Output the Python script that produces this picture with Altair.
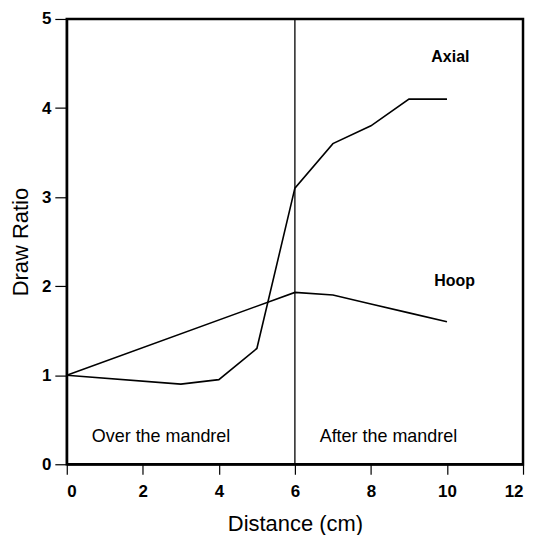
import altair as alt
import pandas as pd

axial_x = [0, 3, 4, 5, 6, 7, 8, 9, 10]
axial_y = [1.0, 0.9, 0.95, 1.3, 3.1, 3.6, 3.8, 4.1, 4.1]
hoop_x = [0, 6, 7, 8, 9, 10]
hoop_y = [1.0, 1.93, 1.9, 1.8, 1.7, 1.6]

series_labels = ["Axial", "Hoop"]
series_label_x = [10.09, 10.2]
series_label_y = [4.57, 2.06]

region_labels = ["Over the mandrel", "After the mandrel"]
region_label_x = [2.48, 8.46]
region_label_y = [0.31, 0.31]

divider_x = [6]

x_ticks = [0, 2, 4, 6, 8, 10, 12]
y_ticks = [0, 1, 2, 3, 4, 5]

FONT = "Liberation Sans"

lines_df = pd.DataFrame(
    {"x": axial_x + hoop_x,
     "y": axial_y + hoop_y,
     "series": ["Axial"] * len(axial_x) + ["Hoop"] * len(hoop_x)}
)
slabel_df = pd.DataFrame({"x": series_label_x, "y": series_label_y, "t": series_labels})
rlabel_df = pd.DataFrame({"x": region_label_x, "y": region_label_y, "t": region_labels})
div_df = pd.DataFrame({"x": divider_x})

xs = alt.Scale(domain=[0, 12], nice=False)
ys = alt.Scale(domain=[0, 5], nice=False)

x_axis = alt.Axis(values=x_ticks, format="d", title="Distance (cm)", grid=False, tickSize=10,
                  labelPadding=9, labelFontSize=17, labelFontWeight="bold",
                  titleFontSize=22, titleFontWeight="normal", titleY=60,
                  titleBaseline="middle", domainWidth=2)
y_axis = alt.Axis(values=y_ticks, format="d", title="Draw Ratio", grid=False, tickSize=12,
                  labelPadding=4, labelFontSize=17, labelFontWeight="bold",
                  titleFontSize=22, titleFontWeight="normal", titleX=-46,
                  titleBaseline="middle", domainWidth=2)

lines = alt.Chart(lines_df).mark_line(color="black", strokeWidth=1.6).encode(
    x=alt.X("x:Q", scale=xs, axis=x_axis),
    y=alt.Y("y:Q", scale=ys, axis=y_axis),
    detail="series:N",
)

divider = alt.Chart(div_df).mark_rule(color="black", strokeWidth=1.3).encode(
    x=alt.X("x:Q", scale=xs)
)

slabels = alt.Chart(slabel_df).mark_text(font=FONT, fontSize=16, fontWeight="bold",
                                         color="black").encode(
    x=alt.X("x:Q", scale=xs), y=alt.Y("y:Q", scale=ys), text="t:N"
)
rlabels = alt.Chart(rlabel_df).mark_text(font=FONT, fontSize=18, fontWeight="normal",
                                         color="black").encode(
    x=alt.X("x:Q", scale=xs), y=alt.Y("y:Q", scale=ys), text="t:N"
)

chart = alt.layer(divider, lines, slabels, rlabels).properties(
    width=458, height=447,
    autosize=alt.AutoSizeParams(type="none"),
    padding={"left": 59, "top": 10, "right": 4, "bottom": 70},
).configure_view(stroke="black", strokeWidth=2.5).configure_axis(
    domainColor="black", tickColor="black", labelColor="black", titleColor="black",
    labelFont=FONT, titleFont=FONT, tickWidth=1.2,
)

chart.save("out.html", embed_options={"renderer": "svg", "actions": False})
